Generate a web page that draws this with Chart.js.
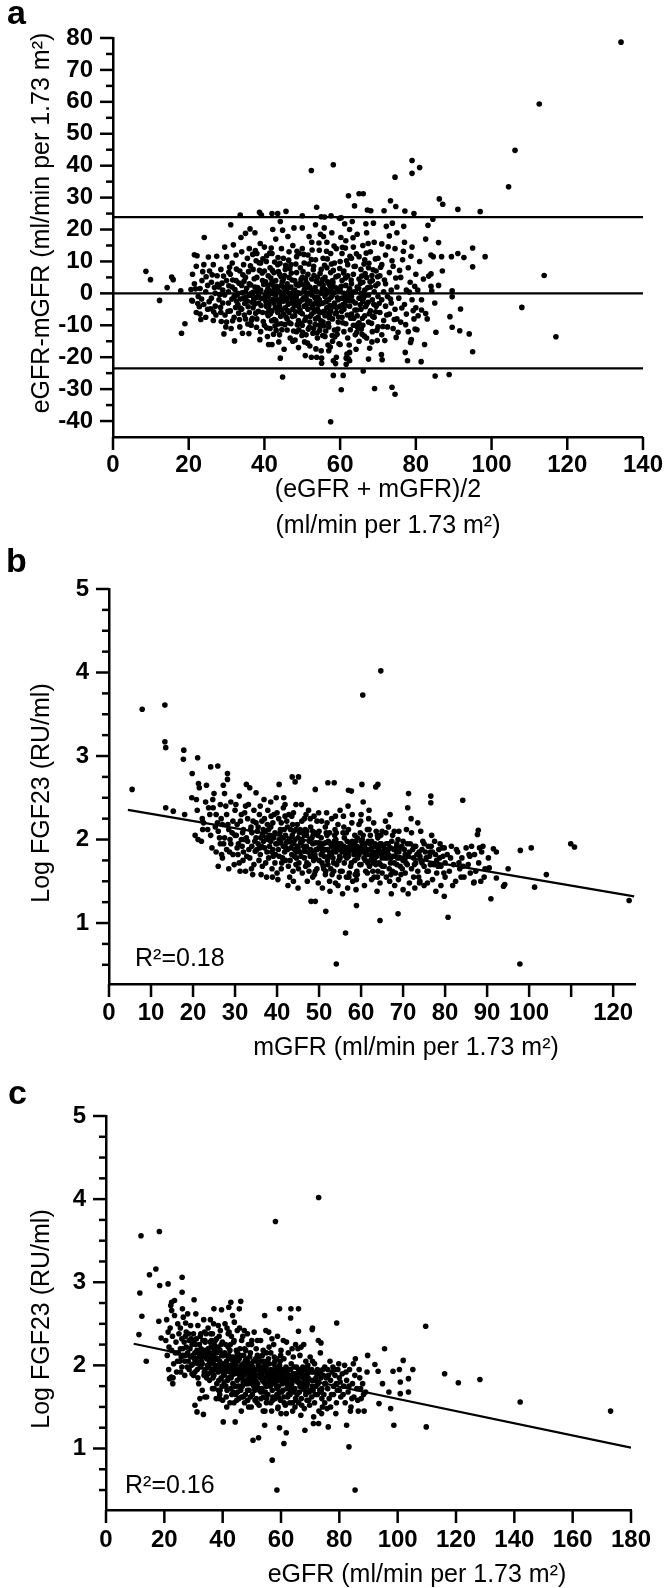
<!DOCTYPE html>
<html>
<head>
<meta charset="utf-8">
<script src="https://cdn.jsdelivr.net/npm/chart.js@4.4.1/dist/chart.umd.min.js"></script>
<style>
  body { margin: 0; background: #fff; }
  #page { position: relative; width: 664px; height: 1588px; }
  .panel { position: absolute; left: 0; }
</style>
</head>
<body>
<div id="page">
  <div class="panel" style="top:0"><canvas id="panelA" width="664" height="548"></canvas></div>
  <div class="panel" style="top:540px"><canvas id="panelB" width="664" height="520"></canvas></div>
  <div class="panel" style="top:1060px"><canvas id="panelC" width="664" height="528"></canvas></div>
</div>
<script>
// パネルa: (eGFR + mGFR)/2 と eGFR-mGFR の差 (Bland-Altman)
const blandAltman = [
  // 外れ値・まばらな点
  [134.2,78.7],[112.6,59.3],[106.2,44.8],[104.5,33.4],[97,25.6],[91.1,26.3],[113.9,5.6],[108,-4.4],[117,-13.6],
  [98.3,11.5],[95,14.2],[95,8.3],[95,-18.3],[94.1,-12.7],[91.8,-4.9],[91.6,-11.7],[89.6,-10.6],[89,-7.3],
  [89.6,0.8],[89.6,-1.1],[88.8,-25.4],[85.1,-25.9],[85.3,-12.2],[89.4,11.5],[91.1,12.5],[92.7,11.2],[86.8,11.5],
  [84.6,11.5],[86,15.9],[87.1,27.9],[86.2,29.6],[84.5,23.2],[83.2,21.3],[84,6.1],[83.4,5.4],[84,2.2],[84.2,0.8],
  [82.6,-6.3],[82.3,-16],[81.5,-5.2],[81.4,-21.4],[77.8,-21.1],[78.6,-15.4],[80.3,-11.4],[79,41.6],[81,39.4],
  [79,37.6],[74.5,36.4],[73.3,29],[74.7,27.2],[77.1,25.8],[79.5,25],[58.2,40.3],[52.4,38.5],[62.2,30.6],[65,31.2],
  [66.1,31.2],[63.8,27.4],[53.8,27],[67.2,26.1],[68.1,25.9],[71.6,25.9],[45.7,25.7],[38.7,25.4],[42,25],[43.5,25],
  [33.6,24.5],[50,24.3],[57.6,24.3],[55.9,23.9],[60.3,23.7],[31.1,21.5],[24.1,17.5],[21.5,12.1],[8.7,6.9],[9.9,4.3],
  [15.5,5.1],[15.9,4.3],[14.3,1.8],[12.3,-2.2],[17.9,0.8],[19,-9.5],[18.1,-12.5],[20.8,-2.2],[29.3,-12.7],[32.1,-14.9],
  [41.1,-16],[44.2,-20.3],[44.8,-26.2],[58.2,-25.7],[60.8,-25.7],[60.3,-30.2],[57.5,-40.2],[69.1,-29.8],[73.7,-29.4],
  [74.5,-31.6],[66.1,-24.3],[67.5,-20.6],[71.1,-20.8],[70.9,-19.2],[61.6,-22.2],[61.6,-20.3],[61.8,-19],[52.4,-20],
  [55.1,-20.3],[58.2,-21.1],[55.1,-21.9],[62.5,-21.1],
  // 20-30
  [21,6],[21.5,3],[22,-6],[22,8.5],[22.5,-1],[23,1.5],[23,-6.5],[23.5,4],[24,-3.5],[24,9],[24.5,0.5],[24.5,-7.5],
  [25,2.5],[25,-5],[21,-2.4],[22.8,-4.2],[23.7,6.8],[20.6,1.2],[25.5,7],[26,-1.5],[26,3.5],[26.5,-8.5],[26.5,9],
  [27,0],[27,-4],[27.5,5.5],[28,-2],[28,2],[28.5,-6],[28.5,7.5],[29,1],[29,-3],[29.5,14.5],[29.5,-0.5],[30,4],
  [30,-9],[30,11.5],[25.8,-4.8],[27.2,-6.8],[28.8,3.2],[29.8,-10.5],[26.8,1.8],[28.2,-0.4],
  // 30-40
  [30.5,0.5],[30.5,-3],[31,6],[31,-5.5],[31.5,9.5],[31.5,2],[32,-1],[32,-7.5],[32.5,4],[32.5,12],[33,-3.5],[33,0],
  [33.5,7],[33.5,-10.5],[34,2.5],[34,-5],[34,13],[34.5,-1.5],[34.5,9],[35,5],[35,-8],[35,0.5],[31.2,-11],[32.8,-0.5],
  [33.8,17.5],[34.2,-12.5],[35,18.8],[30.8,8.2],[32.2,1.2],[33.2,-6.2],[34.8,-3.2],
  [35.5,-2.5],[35.5,11],[36,3],[36,-6],[36,14],[36.5,0],[36.5,-10],[37,7.5],[37,-1],[37,-4.5],[37.5,2],[37.5,19],
  [38,-8],[38,5],[38,12.5],[38.5,-0.5],[38.5,-3],[39,9.5],[39,1],[39,-12],[39.5,-6],[39.5,4],[40,-1.5],[40,7],
  [40,14.5],[40,-10],[35.8,6.8],[36.8,-7.8],[37.8,10.2],[38.8,-14.5],[39.2,24.5],[36.2,20.2],[37.2,-2.2],[38.2,1.8],[39.8,2.8],
  // 40-50
  [40.5,0.5],[40.5,-4],[40.5,10],[41,2.5],[41,-7],[41,5.5],[41,-1],[41.5,-2.5],[41.5,8],[41.5,-11],[42,0],[42,3.5],
  [42,-5.5],[42,12.5],[42,-16],[42.5,1],[42.5,-3],[42.5,6.5],[43,-0.5],[43,-8.5],[43,4],[43,17],[43.5,1.5],[43.5,-2],
  [43.5,-6],[43.5,9],[44,0.5],[44,-4],[44,6],[44,-13],[44.5,-1],[44.5,2.5],[44.5,-9.5],[44.5,14],[45,-2.5],[45,4.5],
  [45,-6.5],[45,0],[45,11],[40.8,-13.5],[41.8,14.2],[42.8,-10.2],[43.8,-15.2],[44.8,19.8],[44.2,22.5],[42.2,20],
  [40.2,-0.8],[41.2,-3.8],[43.2,2.2],[44.6,-5.2],
  [45.5,1],[45.5,-4.5],[45.5,7.5],[46,-1.5],[46,3],[46,-8],[46,-11.5],[46.5,0],[46.5,5],[46.5,-6],[46.5,13],[47,-3],
  [47,2],[47,-9.5],[47,9],[47.5,-1],[47.5,-5],[47.5,15],[47.5,-15],[48,1],[48,-7],[48,4],[48,-2.5],[48.5,-12],
  [48.5,6.5],[48.5,-0.5],[48.5,11.5],[49,-4],[49,2.5],[49,-8.5],[49,-17],[49.5,0],[49.5,8],[49.5,-6],[50,-2],[50,5],
  [50,-10],[50,14],[45.2,-17.5],[46.2,17.8],[46.8,-14],[47.8,20.5],[48.8,-3.2],[49.2,12.5],[50,20.5],[45.8,-2.2],
  [47.2,-0.4],[48.2,-5.8],
  // 50-60
  [50.5,-4],[50.5,1],[50.5,9.5],[51,-1],[51,-7.5],[51,3.5],[51,-13],[51.5,0],[51.5,6],[51.5,-5],[51.5,12],[52,-2.5],
  [52,2],[52,-9],[52,-16.5],[52.5,-0.5],[52.5,4.5],[52.5,-6.5],[52.5,16],[53,-3.5],[53,8.5],[53,-11],[53,1],
  [53.5,-1.5],[53.5,-8],[53.5,10.5],[53.5,21.5],[54,0.5],[54,-5],[54,5],[54,-14],[54.5,-2],[54.5,3],[54.5,-10],
  [54.5,13.5],[55,-6],[55,0],[55,7.5],[55,-18],[50.8,-19.5],[51.8,17.8],[52.8,-12.5],[53.8,-20],[54.8,18.5],[55,24],
  [50.2,6.8],[51.2,-3.4],[53.2,-5.8],[54.2,-7.4],
  [55.5,-3],[55.5,2.5],[55.5,-9],[55.5,11],[56,-1],[56,5],[56,-7],[56,-13.5],[56.5,0],[56.5,-4.5],[56.5,8],[56.5,16],
  [57,-2],[57,3],[57,-10.5],[57,-18],[57.5,-5.5],[57.5,1],[57.5,6.5],[57.5,12.5],[58,-0.5],[58,-8],[58,4],[58,-15],
  [58.5,-3],[58.5,9.5],[58.5,-11.5],[58.5,2],[59,-6],[59,0.5],[59,14],[59,-20],[59.5,-2],[59.5,5.5],[59.5,-9],[60,1],
  [60,-4],[60,10],[60,-16],[55.8,20.5],[56.8,-16.2],[57.8,19],[58.8,-22],[59.8,23.5],[56.2,-11.8],[57.2,-6.6],
  [58.2,7.2],[59.2,-12.8],[55.2,3.8],
  // 60-70
  [60.5,-1.5],[60.5,4],[60.5,-7.5],[60.5,12.5],[61,0],[61,-5],[61,7],[61,-12],[61.5,-2.5],[61.5,2.5],[61.5,-9.5],
  [61.5,16.5],[62,-0.5],[62,5.5],[62,-14],[62,9],[62.5,-4],[62.5,1.5],[62.5,-18.5],[62.5,20],[63,-6.5],[63,3],[63,11],
  [63,-1],[63.5,-10],[63.5,6],[63.5,14.5],[64,-3],[64,0.5],[64,-13],[64,8.5],[64.5,-7],[64.5,2],[64.5,18.5],[65,-1.5],
  [65,4.5],[65,-15],[65,11.5],[60.2,17.5],[61.2,21.8],[62.2,-20.5],[63.2,22.5],[64.2,-17.5],[65,-9.2],[60.8,-3.4],[62.8,-7.8],
  [65.5,0],[65.5,-5],[65.5,7.5],[66,-2.5],[66,3.5],[66,-10],[66,15],[66.5,1],[66.5,-7],[66.5,10.5],[67,-3.5],[67,5],
  [67,-14],[67,19],[67.5,-0.5],[67.5,-9],[67.5,8],[68,2],[68,-5.5],[68,13],[68.5,-2],[68.5,-12],[68.5,4],[69,-7.5],
  [69,0.5],[69,16],[69.5,-4],[69.5,7],[70,-1],[70,-10.5],[70,11],[70,3],[65.8,-12.8],[66.8,21.8],[67.8,-17.2],[68.8,22],
  [69.8,-14.8],[66.2,-1.4],
  // 70-88
  [70.5,5.5],[70.5,-6],[71,-2],[71,9],[71,-13],[71,15.5],[71.5,0.5],[71.5,-8.5],[72,3],[72,-4],[72,12],[72.5,-10.5],
  [72.5,-1],[73,6.5],[73,-6.5],[73,18],[73.5,1],[73.5,-3],[74,-11],[74,8.5],[74.5,-5],[74.5,14],[75,2],[75,-8],[75,19],
  [71.8,-14.8],[73.8,22],[74.8,-13.8],[72.2,21],
  [75.5,-1.5],[76,5],[76,-9],[76.5,10.5],[77,-3.5],[77,16],[77.5,1],[77.5,-6.5],[78,8],[78,-12],[78.5,3.5],[79,-2],
  [79,14.5],[79.5,-8],[80,6],[80,-4.5],[76.8,21],[78.8,-14.5],[77.2,-18.5],[79.8,-11.2],
  [80.5,1],[81,10],[81.5,-2],[82,4.5],[83,-8],[84,12],[85,-3],[86,2.5],[87,7],[80.6,-7],[82.6,17]
];
// パネルa: 中心部の密集した点
const blandAltmanDense = [
  [33.3,3.2],[33.7,-1.8],[34.3,5.8],[34.7,-6.8],[35.3,1.6],[35.7,-4.2],[36.3,8.6],[36.7,-2.8],[37.3,4.6],[37.7,-6.2],
  [38.3,0.8],[38.7,7.2],[39.3,-1.6],[39.7,-8.8],[36.1,-0.6],[37.1,0.4],[38.1,-1.2],[39.1,-3.8],[35.1,-1.2],[34.1,0.2],
  [36.9,12.2],[38.9,15.6],[35.9,-12.6],[37.9,-10.6],
  [40.3,3.6],[40.7,-6.2],[40.9,1.4],[41.3,-0.2],[41.7,4.8],[41.9,-8.6],[42.3,-1.8],[42.7,9.8],[42.9,-4.4],[43.3,0.4],
  [43.7,6.8],[43.9,-3.2],[44.3,-7.2],[44.7,3.6],[44.9,-0.6],[45.3,5.6],[45.7,-7.4],[45.9,0.6],[46.3,-3.4],[46.7,7.8],
  [46.9,-1.2],[47.3,4.2],[47.7,-11.8],[47.9,-3.8],[48.3,9.2],[48.7,-9.8],[48.9,0.2],[49.3,-2.6],[49.7,4.4],[49.9,-13.2],
  [40.6,-10.8],[41.4,12.6],[42.4,-12.8],[43.6,11.2],[44.4,-1.8],[45.4,-9.8],[46.4,10.4],[47.4,-7.2],[48.4,2.8],[49.4,-5.2],
  [41.1,-4.8],[43.1,-11.6],[45.1,1.8],[47.1,6.4],[49.1,-11.4],[42.1,7.2],[44.1,9.4],[46.1,-5.4],[48.1,-14.6],[50,-6.4],
  [50.3,2.6],[50.7,-8.4],[50.9,4.8],[51.3,-2.2],[51.7,9.2],[51.9,-10.6],[52.3,0.8],[52.7,-4.6],[52.9,7.4],[53.3,-1.2],
  [53.7,3.8],[53.9,-12.4],[54.3,-3.6],[54.7,6.2],[54.9,-8.6],[55.3,1.4],[55.7,-5.6],[55.9,8.8],[56.3,-2.6],[56.7,3.6],
  [56.9,-9.4],[57.3,-3.8],[57.7,9.2],[57.9,-13.2],[58.3,0.2],[58.7,-6.4],[58.9,5.2],[59.3,-1.4],[59.7,-15.8],[59.9,7.8],
  [50.4,12.2],[51.4,-15.6],[52.4,10.6],[53.4,-9.8],[54.4,15.8],[55.4,-13.2],[56.4,13.2],[57.4,-16.8],[58.4,14.8],[59.4,-11.2],
  [51.1,1.8],[52.1,-7.2],[53.1,5.6],[54.1,-1.2],[55.1,-3.2],[56.1,1.2],[57.1,-7.6],[58.1,3.4],[59.1,-4.4],[50.1,-12.2],
  [55.6,17.8],[53.6,-17.4],
  [60.3,2.2],[60.7,-9.2],[60.9,6.4],[61.3,-3.8],[61.7,10.2],[61.9,-6.8],[62.3,0.6],[62.7,-11.4],[62.9,4.2],[63.3,-2.4],
  [63.7,8.4],[63.9,-5.2],[64.3,12.4],[64.7,-9.6],[64.9,1.6],[65.3,-3.6],[65.7,5.4],[65.9,-7.8],[66.3,9.2],[66.7,-4.2],
  [66.9,12.6],[67.3,1.8],[67.7,-6.4],[67.9,3.6],[68.3,-9.4],[68.7,7.4],[68.9,-3.4],[69.3,10.8],[69.7,-11.6],[69.9,5.2],
  [61.4,14.2],[62.4,-16.2],[63.4,17.4],[64.4,-12.2],[66.4,-13.4],[67.4,15.6],[68.4,-15.2],[69.4,2.4],
  [70.3,-3.2],[70.7,8.2],[71.3,-10.4],[71.7,4.2],[72.3,-6.8],[72.7,14.6],[73.3,-1.8],[73.7,10.2],[74.3,-8.2],[74.7,4.8],
  [75.3,-12.2],[75.7,7.2],[76.3,-4.6],[76.7,13.2],[77.3,-9.8],[78.3,0.4],[78.7,11.6],[79.3,-5.4],[79.7,2.2],
  [21.8,1.4],[22.4,-3.2],[23.4,-1.8],[24.6,5.2],[25.4,-2.6],[26.2,5.8],[26.6,-5.8],[27.6,2.8],[28.4,-4.4],[29.2,5.4],
  [29.6,-6.8],[30.4,-5.6],[30.6,2.4],[31.4,-1.8],[31.6,4.2],[32.4,-4.4],[32.6,7.6],[33.4,-8.2],[27.4,11.6],[31.8,15.2],
  [25.2,11.4],[23.2,-8.2],[22.2,11.8],[28.6,-8.8],
  [36.4,2.6],[37.4,-3.4],[38.4,-5.6],[39.4,6.4],[40.4,-2.6],[41.4,0.8],[42.4,2.4],[43.4,-4.8],[44.4,5.2],[45.4,-1.2],
  [46.4,1.8],[47.4,-2.2],[48.4,-1.4],[49.4,3.2],[50.4,-1.4],[51.4,2.8],[52.4,-3.4],[53.4,1.8],[54.4,-5.8],[55.4,4.4],
  [56.4,-6.2],[57.4,2.2],[58.4,-4.2],[59.4,1.6],[60.4,-5.6],[61.4,4.8],[62.4,-2.2],[63.4,0.4],[64.4,-5.2],[65.4,3.2],
  [66.4,-0.8],[67.4,-2.8],[68.4,5.6],[69.4,-5.8],
  [36.6,-8.4],[38.6,9.6],[40.6,11.8],[42.6,-8.2],[44.6,-11.4],[46.6,-9.2],[48.6,13.2],[50.6,-15.2],[52.6,13.6],[54.6,-11.6],
  [56.6,10.8],[58.6,-13.6],[60.6,14.4],[62.6,11.6],[64.6,-10.6],[66.6,6.2],[68.6,-7.2],
  [41.6,-6.4],[43.6,-9.6],[45.6,8.8],[47.6,0.6],[49.6,-9.4],[51.6,-11.2],[53.6,-2.8],[55.6,-10.2],[57.6,-1.2],[59.6,-7.4],
  [61.6,-1.2],[63.6,-7.8],[65.6,-11.2],[67.6,9.4],
  [34.6,3.8],[35.6,-9.6],[37.6,13.4],[39.6,10.8],[33.6,-4.6],[32.6,-2.4],[31.6,-8.6],[30.6,6.6]
];
const agreementLimits = [23.9, -23.5];
const meanBias = 0;

// パネルb: mGFR と Log FGF23
const mgfrFgf23 = [
  [64.7,4.02],[60.4,3.73],[7.9,3.56],[13.3,3.61],[13.3,3.17],[13.5,3.10],[17.8,3.07],[17.7,2.96],[21.1,2.98],
  [19.8,2.79],[5.5,2.60],[13.5,2.38],[15.3,2.34],[18,2.30],[24.2,2.87],[25.9,2.88],[28.2,2.79],[19.7,2.50],[21.3,2.67],
  [97.8,0.51],[54.1,0.51],[56.3,0.88],[64.5,1.03],[68.8,1.11],[80.7,1.07],[51.6,1.14],[58.9,1.21],[48.1,1.26],
  [49.1,1.26],[123.8,1.27],[90.9,1.29],[79.8,1.32],[101.3,1.43],[104.1,1.58],[94.2,1.46],[93.9,1.44],[95,1.65],
  [92.2,1.54],[90.5,1.66],[97.9,1.87],[100.5,1.90],[109.9,1.95],[110.8,1.91],[91.5,1.89],[92.2,1.85],[88.2,1.90],
  [85.9,1.80],[87.9,2.11],[87.7,2.06],[84.2,2.47],[76.6,2.52],[76.6,2.44],[71.3,2.55],[71.1,2.38],[64,2.66],[63.5,2.63],
  [60.2,2.66],[60.5,2.45],[57.7,2.58],[57,2.59],[52.1,2.68],[53.6,2.68],[43.6,2.75],[45.1,2.75],[44.3,2.69],[40.5,2.66],
  [49.1,2.60],[32.7,2.66],[86.9,1.49],
  [20.5,2.05],[21,2.35],[21.5,2.62],[22,1.98],[22.5,2.2],[23,2.45],[23.5,2.12],[24,2.3],[24.5,1.9],[25,2.55],[21.2,2.0],
  [22.2,2.25],[23.2,2.65],[24.2,2.05],[20.8,2.48],[24.8,2.38],
  [25.5,1.85],[25.5,2.3],[26,2.1],[26,1.68],[26.5,2.42],[26.5,1.95],[27,2.18],[27,1.78],[27.5,2.55],[27.5,2.02],[28,1.88],
  [28,2.3],[28.5,2.12],[28.5,1.65],[29,2.45],[29,1.95],[29.5,2.22],[29.5,1.82],[30,2.05],[30,2.35],[25.8,2.2],[26.8,1.82],
  [27.8,2.4],[28.8,2.0],[29.8,1.7],[27.2,2.65],[28.2,2.72],
  [30.5,1.9],[30.5,2.18],[31,2.52],[31,1.72],[31.5,2.0],[31.5,2.3],[32,1.85],[32,2.12],[32.5,2.4],[32.5,1.62],[33,1.98],
  [33,2.25],[33.5,1.78],[33.5,2.62],[34,2.08],[34,1.92],[34.5,2.35],[34.5,1.7],[35,2.02],[35,2.2],[30.8,1.95],[31.8,2.08],
  [32.8,1.8],[33.8,2.15],[34.8,1.86],[30.2,2.42],[31.2,1.62],[32.2,2.0],[33.2,2.42],[34.2,1.58],[35,2.56],
  [35.5,1.95],[35.5,2.15],[36,1.82],[36,2.4],[36.5,2.05],[36.5,1.68],[37,2.25],[37,1.9],[37.5,2.02],[37.5,1.55],[38,2.12],
  [38,1.78],[38.5,2.45],[38.5,1.98],[39,1.88],[39,2.2],[39.5,2.08],[39.5,1.72],[40,1.95],[40,2.32],[35.8,2.3],[36.8,1.98],
  [37.8,2.35],[38.8,1.65],[39.8,2.5],[36.2,1.58],[37.2,2.1],[38.2,1.92],[39.2,2.02],[35.2,1.88],[36.4,2.22],[37.6,1.85],
  [38.6,2.28],[39.6,1.82],[40,1.6],
  [40.5,2.0],[40.5,1.8],[41,2.2],[41,1.65],[41.5,1.92],[41.5,2.38],[42,2.05],[42,1.75],[42.5,1.88],[42.5,2.15],[43,1.98],
  [43,1.55],[43.5,2.28],[43.5,1.82],[44,2.1],[44,1.95],[44.5,1.7],[44.5,2.42],[45,1.9],[45,2.02],[40.8,2.12],[41.8,1.85],
  [42.8,2.3],[43.8,1.62],[44.8,2.18],[40.2,1.52],[41.2,2.02],[42.2,1.96],[43.2,2.12],[44.2,1.88],[45,1.42],[42.6,1.45],
  [41.6,2.5],[43.6,2.05],[44.6,1.78],[40.4,2.25],
  [45.5,1.85],[45.5,2.12],[46,1.98],[46,1.6],[46.5,2.25],[46.5,1.78],[47,1.92],[47,2.05],[47.5,1.7],[47.5,2.35],[48,1.88],
  [48,2.15],[48.5,1.55],[48.5,1.95],[49,2.08],[49,1.82],[49.5,1.65],[49.5,2.22],[50,1.9],[50,1.75],[45.8,2.42],[46.8,1.68],
  [47.8,2.0],[48.8,2.28],[49.8,1.48],[45.2,1.72],[46.2,2.08],[47.2,1.5],[48.2,1.8],[49.2,1.96],[46.6,1.9],[47.6,1.62],
  [48.6,2.05],[49.6,1.88],[50,2.1],[45.6,1.96],
  [50.5,1.82],[50.5,2.02],[51,1.68],[51,1.95],[51.5,2.15],[51.5,1.58],[52,1.88],[52,1.75],[52.5,2.08],[52.5,1.5],[53,1.92],
  [53,2.25],[53.5,1.72],[53.5,1.62],[54,2.0],[54,1.85],[54.5,1.45],[54.5,2.18],[55,1.78],[55,1.95],[50.8,1.42],[51.8,2.32],
  [52.8,1.65],[53.8,2.12],[54.8,1.55],[50.2,1.9],[51.2,1.8],[52.2,1.98],[53.2,1.85],[54.2,1.7],[55,2.35],[52.6,1.38],
  [53.6,1.98],[54.6,1.88],[51.6,1.62],[50.6,2.22],
  [55.5,1.85],[55.5,1.62],[56,2.02],[56,1.72],[56.5,1.9],[56.5,1.55],[57,2.12],[57,1.8],[57.5,1.68],[57.5,1.95],[58,1.88],
  [58,1.5],[58.5,2.05],[58.5,1.75],[59,1.92],[59,1.62],[59.5,2.18],[59.5,1.82],[60,1.7],[60,1.98],[55.8,2.28],[56.8,1.42],
  [57.8,2.2],[58.8,1.4],[59.8,2.08],[55.2,1.95],[56.2,1.88],[57.2,1.6],[58.2,1.95],[59.2,1.78],[60,2.3],[56.6,1.78],
  [57.6,1.88],[58.6,1.58],[59.6,1.9],[55.6,1.35],
  [60.5,1.85],[60.5,2.05],[61,1.75],[61,1.95],[61.5,1.6],[61.5,2.12],[62,1.88],[62,1.68],[62.5,1.98],[62.5,1.52],[63,1.82],
  [63,2.2],[63.5,1.7],[63.5,1.92],[64,1.62],[64,2.02],[64.5,1.85],[64.5,1.48],[65,1.78],[65,2.1],[60.8,1.45],[61.8,2.25],
  [62.8,1.62],[63.8,1.38],[64.8,1.95],[60.2,1.92],[61.2,1.82],[62.2,2.05],[63.2,1.75],[64.2,1.88],[65,1.6],[61.6,1.72],
  [62.6,1.9],[63.6,2.1],[64.6,1.7],
  [65.5,1.88],[65.5,1.68],[66,1.95],[66,1.55],[66.5,1.82],[66.5,2.15],[67,1.72],[67,1.9],[67.5,1.62],[67.5,2.05],[68,1.8],
  [68,1.45],[68.5,1.95],[68.5,1.7],[69,1.85],[69,2.1],[69.5,1.58],[69.5,1.9],[70,1.75],[70,1.4],[65.8,2.22],[66.8,1.5],
  [67.8,1.88],[68.8,2.0],[69.8,1.65],[66.2,1.78],[67.2,1.35],[68.2,1.6],[69.2,1.78],[70,1.98],
  [70.5,1.82],[70.5,1.6],[71,1.95],[71,1.7],[71.5,1.48],[71.5,1.85],[72,2.08],[72,1.65],[72.5,1.78],[72.5,1.55],[73,1.92],
  [73,1.72],[73.5,1.62],[73.5,2.2],[74,1.8],[74,1.5],[74.5,1.88],[75,1.68],[75,1.95],[71.2,1.35],[72.8,1.42],[74.2,2.1],
  [70.8,2.12],[73.8,1.85],[75,1.45],
  [75.5,1.78],[76,1.62],[76,1.92],[76.5,1.7],[77,1.85],[77,1.52],[77.5,1.98],[78,1.75],[78,1.6],[78.5,1.88],[79,1.68],
  [79,1.45],[79.5,1.8],[80,1.72],[80,1.55],[76.8,2.05],[78.8,1.95],[77.8,1.38],[75.8,1.48],[79.8,1.9],
  [80.5,1.82],[81,1.62],[81.5,1.92],[82,1.7],[82.5,1.5],[83,1.85],[83.5,1.65],[84,1.78],[84.5,1.55],[85,1.9],[85.5,1.7],
  [86,1.6],[87,1.82],[88,1.72],[88.5,1.5],[89,1.92],[89.5,1.65],[81.8,1.45],[83.8,1.55],[86.8,1.48]
];
// パネルb: 中心部の密集した点
const mgfrFgf23Dense = [
  [30.3,2.05],[30.7,1.82],[31.3,2.22],[31.7,1.92],[32.3,2.32],[32.7,2.02],[33.3,1.88],[33.7,2.12],[34.3,2.22],[34.7,1.98],
  [35.3,2.1],[35.7,1.75],[36.3,1.92],[36.7,2.12],[37.3,1.72],[37.7,2.18],[38.3,2.05],[38.7,1.85],[39.3,2.3],[39.7,1.95],
  [40.3,1.88],[40.7,2.08],[41.3,1.78],[41.7,2.12],[42.3,2.22],[42.7,1.68],[43.3,1.9],[43.7,2.18],[44.3,2.0],[44.7,1.85],
  [45.3,2.08],[45.7,1.8],[46.3,1.92],[46.7,2.12],[47.3,1.85],[47.7,1.98],[48.3,2.02],[48.7,1.75],[49.3,1.88],[49.7,2.05],
  [50.3,1.95],[50.7,1.72],[51.3,1.88],[51.7,2.08],[52.3,1.8],[52.7,1.95],[53.3,1.78],[53.7,2.05],[54.3,1.92],[54.7,1.75],
  [55.3,1.88],[55.7,2.08],[56.3,1.8],[56.7,1.98],[57.3,1.92],[57.7,1.72],[58.3,1.82],[58.7,1.98],[59.3,1.88],[59.7,1.7],
  [60.3,2.0],[60.7,1.78],[61.3,1.88],[61.7,1.98],[62.3,1.75],[62.7,1.85],[63.3,1.95],[63.7,1.8],[64.3,1.72],[64.7,2.05],
  [65.3,1.92],[65.7,1.78],[66.3,1.88],[66.7,1.65],[67.3,1.98],[67.7,1.8],[68.3,1.9],[68.7,1.78],[69.3,1.68],[69.7,1.92],
  [70.3,1.88],[70.7,1.72],[71.3,1.8],[71.7,1.95],[72.3,1.88],[72.7,1.7],[73.3,1.82],[73.7,1.55],[74.3,1.75],[74.7,1.98],
  [75.3,1.85],[75.7,1.62],[76.3,1.8],[76.7,1.92],[77.3,1.7],[77.7,1.82],[78.3,1.68],[78.7,1.78],[79.3,1.9],[79.7,1.6],
  [22.3,2.12],[23.7,2.38],[25.3,2.15],[26.3,2.02],[27.3,1.95],[28.3,2.18],[29.3,2.08],[24.7,2.48],[26.7,2.25],[28.7,1.85],
  [36.9,2.48],[41.9,2.42],[46.9,2.3],[51.9,2.2],[56.9,2.4],[61.9,2.35],[66.9,2.3],[71.9,2.25],[43.9,1.5],[48.9,1.58],
  [53.9,1.48],[58.9,1.52],[63.9,1.55],[68.9,1.52],[73.9,1.48],[38.9,1.55],[33.9,1.65],[31.9,1.75],
  [81.3,1.78],[82.7,1.88],[84.3,1.68],[85.7,1.82],[87.3,1.62],[88.7,1.85],[90.3,1.78],[83.3,1.72],[86.3,1.92],[89.3,1.55],
  [40.9,1.96],[41.5,2.02],[42.1,1.9],[42.9,2.0],[43.5,1.96],[44.1,1.8],[44.9,1.92],[45.9,2.0],[46.5,1.86],[47.1,2.1],
  [47.9,1.8],[48.5,2.1],[49.1,1.78],[49.9,1.96],[50.9,1.86],[51.5,1.96],[52.1,1.7],[52.9,1.82],[53.5,1.9],[54.1,2.08],
  [54.9,1.8],[55.9,1.92],[56.5,2.08],[57.1,1.85],[57.9,1.98],[58.5,1.9],[59.1,2.02],[59.9,1.85],[60.9,1.9],[61.5,1.82],
  [62.1,1.95],[62.9,1.72],[63.5,1.85],[64.1,1.92],[64.9,1.82],[65.9,1.85],[66.5,1.95],[67.1,1.78],[67.9,1.72],[68.5,1.85],
  [37.9,2.0],[38.5,2.15],[39.1,1.8],[36.1,2.02],[35.9,1.9],
  [42.5,1.98],[44.5,2.12],[46.5,2.05],[48.5,1.85],[50.5,1.92],[52.5,1.85],[54.5,1.95],[56.5,1.82],[58.5,1.85],[60.5,1.92],
  [62.5,1.8],[64.5,1.95],[66.5,1.88],[68.5,1.92],[70.5,1.78],[72.5,1.92],[74.5,1.72],[76.5,1.85],
  [41.1,1.72],[43.1,1.75],[45.1,1.65],[47.1,1.72],[49.1,1.62],[51.1,1.65],[53.1,1.58],[55.1,1.62],[57.1,1.55],[59.1,1.58],
  [61.1,1.62],[63.1,1.55],[65.1,1.68],[67.1,1.58],
  [41.9,2.28],[43.9,2.32],[45.9,2.22],[47.9,2.25],[49.9,2.32],[51.9,2.05],[53.9,2.28],[55.9,2.15],[57.9,2.3],[59.9,2.22],
  [61.9,2.12],[63.9,2.05],[65.9,2.08],[67.9,2.1]
];
const mgfrFit = [[4.5, 2.355], [125, 1.32]];
const mgfrBlankTicks = [110];

// パネルc: eGFR と Log FGF23
const egfrFgf23 = [
  [72.9,4.02],[58.1,3.73],[12,3.56],[18.3,3.61],[17.1,3.16],[14.9,3.09],[18.4,2.96],[21.3,2.98],[26.1,3.06],[26.1,2.88],
  [11.6,2.87],[12.3,2.59],[11.3,2.37],[13.8,2.05],[30.2,2.79],[109.6,2.47],[95.5,2.20],[101.9,2.06],[105.2,1.95],
  [103.7,1.84],[100.9,1.80],[100.6,1.95],[98.4,1.93],[92.2,2.01],[93.3,1.93],[94.8,1.78],[97,1.68],[100.9,1.66],
  [103.7,1.68],[116.1,1.90],[120.8,1.79],[128.2,1.83],[142,1.56],[173,1.45],[109.8,1.26],[98.7,1.28],[97.6,1.48],
  [93.6,1.54],[89.7,2.12],[79.1,2.51],[85.4,0.50],[58.6,0.50],[57,0.86],[83.3,1.02],[61,1.06],[61.8,1.19],[59.5,1.25],
  [52.3,1.13],[50.4,1.10],[68.2,1.22],[82.5,1.28],[71.1,1.30],[72.9,1.30],[76.2,1.26],[54.4,1.28],[40.2,1.32],[44.3,1.32],
  [33.4,1.41],[31.2,1.44],[30.5,1.52],[63.4,2.68],[66,2.68],[59.5,2.68],[63.3,2.57],[54.4,2.60],[42.8,2.76],[46.2,2.77],
  [45.7,2.68],[42.1,2.70],[39.6,2.67],[37,2.68],[23.5,2.78],[22.5,2.76],[27.3,2.51],[18.1,2.53],[22.5,2.66],[70.8,2.45],
  [70.7,2.43],[66,2.41],[73.7,2.27],[18.9,2.33],[21.8,1.84],[22.9,1.78],[22.4,1.86],
  [20.5,2.3],[21,2.12],[21.5,1.95],[22,2.45],[22.5,2.18],[23,1.85],[23.5,2.6],[24,2.28],[24.5,2.05],[25,2.38],[20.8,2.55],
  [22.2,2.72],[23.2,2.02],[24.2,1.92],[21.6,2.22],[24.8,2.15],
  [25.5,2.2],[25.5,2.45],[26,1.98],[26,2.32],[26.5,2.12],[26.5,2.58],[27,2.05],[27,1.88],[27.5,2.4],[27.5,2.22],[28,2.15],
  [28,2.62],[28.5,1.95],[28.5,2.3],[29,2.1],[29,2.48],[29.5,1.9],[29.5,2.25],[30,2.38],[30,2.02],[25.8,2.1],[26.8,2.28],
  [27.8,1.98],[28.8,2.2],[29.8,2.12],[26.2,2.68],[27.2,2.35],[28.2,2.05],[29.2,2.32],[30,1.88],
  [30.5,2.15],[30.5,1.92],[31,2.32],[31,2.05],[31.5,2.48],[31.5,1.85],[32,2.1],[32,2.25],[32.5,1.98],[32.5,2.38],[33,2.02],
  [33,1.7],[33.5,2.18],[33.5,2.55],[34,1.95],[34,2.28],[34.5,2.08],[34.5,1.62],[35,2.2],[35,1.9],[30.8,2.62],[31.8,1.78],
  [32.8,2.12],[33.8,2.4],[34.8,2.0],[30.2,2.3],[31.2,2.18],[32.2,1.6],[33.2,2.3],[34.2,2.15],[35,2.45],[31.6,2.02],
  [32.6,2.2],[33.6,1.88],
  [35.5,2.05],[35.5,1.82],[36,2.22],[36,1.95],[36.5,2.38],[36.5,1.72],[37,2.1],[37,1.88],[37.5,2.3],[37.5,2.0],[38,1.78],
  [38,2.15],[38.5,2.48],[38.5,1.92],[39,2.05],[39,1.65],[39.5,2.25],[39.5,1.85],[40,2.12],[40,1.98],[35.8,2.55],[36.8,2.02],
  [37.8,1.6],[38.8,2.35],[39.8,1.75],[35.2,2.0],[36.2,2.3],[37.2,2.18],[38.2,1.98],[39.2,2.42],[40,1.58],[36.6,1.9],
  [37.6,2.08],[38.6,1.7],[39.6,2.0],[35.6,2.15],
  [40.5,2.02],[40.5,1.8],[41,2.25],[41,1.92],[41.5,2.45],[41.5,1.7],[42,2.08],[42,1.85],[42.5,2.18],[42.5,1.55],[43,1.98],
  [43,2.35],[43.5,1.78],[43.5,2.1],[44,1.9],[44,2.52],[44.5,2.0],[44.5,1.65],[45,2.15],[45,1.82],[40.8,2.5],[41.8,2.0],
  [42.8,1.72],[43.8,2.28],[44.8,1.58],[40.2,2.12],[41.2,1.62],[42.2,2.4],[43.2,1.88],[44.2,2.05],[45,2.42],[41.6,2.12],
  [42.6,1.95],[43.6,1.68],[44.6,1.92],[40.6,1.95],[43.4,2.6],[41.4,1.5],
  [45.5,1.95],[45.5,1.75],[46,2.12],[46,1.88],[46.5,2.3],[46.5,1.62],[47,2.02],[47,1.8],[47.5,2.2],[47.5,1.55],[48,1.92],
  [48,2.08],[48.5,1.7],[48.5,2.38],[49,1.85],[49,2.0],[49.5,1.62],[49.5,2.15],[50,1.9],[50,1.78],[45.8,2.45],[46.8,1.98],
  [47.8,1.65],[48.8,2.25],[49.8,1.5],[45.2,2.05],[46.2,1.7],[47.2,2.12],[48.2,1.82],[49.2,1.95],[50,2.3],[46.6,1.85],
  [47.6,1.95],[48.6,1.58],[49.6,1.82],[45.6,1.6],[47.4,2.42],[46.4,1.45],
  [50.5,1.85],[50.5,2.05],[51,1.7],[51,1.95],[51.5,2.2],[51.5,1.6],[52,1.88],[52,1.78],[52.5,2.1],[52.5,1.52],[53,1.92],
  [53,2.3],[53.5,1.72],[53.5,1.98],[54,1.62],[54,2.05],[54.5,1.85],[54.5,1.45],[55,2.15],[55,1.75],[50.8,2.4],[51.8,1.55],
  [52.8,1.98],[53.8,1.82],[54.8,2.42],[50.2,1.65],[51.2,1.82],[52.2,2.0],[53.2,1.6],[54.2,1.92],[55,1.55],[51.6,2.05],
  [52.6,1.7],[53.6,2.12],[54.6,1.68],[50.6,1.92],
  [55.5,1.88],[55.5,1.65],[56,2.02],[56,1.78],[56.5,1.55],[56.5,2.15],[57,1.92],[57,1.7],[57.5,2.25],[57.5,1.82],[58,1.6],
  [58,1.98],[58.5,1.75],[58.5,2.08],[59,1.88],[59,1.5],[59.5,2.0],[59.5,1.68],[60,1.82],[60,2.18],[55.8,2.4],[56.8,1.45],
  [57.8,1.92],[58.8,2.35],[59.8,1.58],[55.2,2.05],[56.2,1.9],[57.2,1.62],[58.2,1.85],[59.2,1.75],[60,1.42],[56.6,1.8],
  [57.6,2.02],[58.6,1.65],[59.6,1.95],
  [60.5,1.78],[60.5,1.95],[61,1.62],[61,2.08],[61.5,1.85],[61.5,1.52],[62,1.92],[62,1.72],[62.5,2.15],[62.5,1.65],[63,1.88],
  [63,1.55],[63.5,2.02],[63.5,1.75],[64,1.82],[64,1.45],[64.5,1.98],[64.5,1.68],[65,1.9],[65,1.6],[60.8,2.3],[61.8,1.42],
  [62.8,1.95],[63.8,2.2],[64.8,1.5],[60.2,1.68],[61.2,1.92],[62.2,1.8],[63.2,1.7],[64.2,2.1],[65,2.25],
  [65.5,1.85],[65.5,1.65],[66,1.95],[66,1.55],[66.5,2.12],[66.5,1.75],[67,1.88],[67,1.6],[67.5,1.98],[67.5,1.72],[68,1.82],
  [68,1.48],[68.5,2.05],[68.5,1.65],[69,1.9],[69,1.78],[69.5,1.58],[69.5,1.95],[70,1.7],[70,2.1],[65.8,2.2],[66.8,1.4],
  [67.8,2.25],[68.8,1.85],[69.8,1.52],[66.2,1.8],[67.2,1.92],[68.2,1.7],[69.2,2.0],
  [70.5,1.82],[70.5,1.62],[71,1.92],[71,1.7],[71.5,2.02],[71.5,1.55],[72,1.85],[72,1.75],[72.5,1.65],[72.5,1.95],[73,1.8],
  [73,1.45],[73.5,1.9],[73.5,2.15],[74,1.72],[74,1.6],[74.5,1.88],[75,1.78],[75,1.98],[71.2,1.38],[72.8,2.3],[74.2,1.5],
  [70.8,2.05],[73.8,1.68],[75,1.55],
  [75.5,1.85],[76,1.72],[76,1.95],[76.5,1.6],[77,1.82],[77,1.5],[77.5,1.92],[78,1.75],[78,1.65],[78.5,1.88],[79,1.78],
  [79,1.55],[79.5,1.95],[80,1.7],[80,1.85],[76.8,2.05],[78.8,1.42],[77.8,1.98],[75.8,1.48],[79.8,2.02],
  [80.5,1.62],[81,1.9],[81.5,1.75],[82,1.55],[82.5,1.82],[83,1.68],[83.5,1.95],[84,1.5],[84.5,1.78],[85,1.62],[85.5,2.08],
  [86,1.72],[86.5,1.45],[87,1.85],[87.5,1.6],[88,1.78],[88.5,1.45],[89,1.68],[89.5,1.92],[81.8,2.0],[83.8,1.45],
  [86.8,1.95],[84.8,2.02]
];
// パネルc: 中心部の密集した点
const egfrFgf23Dense = [
  [30.3,2.08],[30.7,2.25],[31.3,1.95],[31.7,2.15],[32.3,2.35],[32.7,2.05],[33.3,2.12],[33.7,1.92],[34.3,2.38],[34.7,2.1],
  [35.3,1.98],[35.7,2.28],[36.3,2.05],[36.7,1.85],[37.3,1.95],[37.7,2.2],[38.3,2.08],[38.7,1.82],[39.3,1.95],[39.7,2.12],
  [40.3,1.9],[40.7,2.15],[41.3,2.05],[41.7,1.82],[42.3,1.98],[42.7,2.25],[43.3,1.92],[43.7,2.02],[44.3,1.75],[44.7,2.18],
  [45.3,1.9],[45.7,2.08],[46.3,1.95],[46.7,1.75],[47.3,1.88],[47.7,2.05],[48.3,2.0],[48.7,1.78],[49.3,2.1],[49.7,1.92],
  [50.3,1.98],[50.7,1.75],[51.3,2.08],[51.7,1.88],[52.3,1.72],[52.7,1.95],[53.3,2.05],[53.7,1.82],[54.3,1.95],[54.7,1.78],
  [55.3,1.92],[55.7,2.08],[56.3,1.75],[56.7,1.92],[57.3,1.82],[57.7,2.1],[58.3,1.9],[58.7,1.72],[59.3,1.85],[59.7,2.05],
  [60.3,1.88],[60.7,1.7],[61.3,1.82],[61.7,1.98],[62.3,1.62],[62.7,1.85],[63.3,1.95],[63.7,1.78],[64.3,1.9],[64.7,1.72],
  [65.3,1.98],[65.7,1.8],[66.3,1.68],[66.7,1.9],[67.3,1.78],[67.7,1.85],[68.3,1.95],[68.7,1.75],[69.3,1.85],[69.7,1.68],
  [70.3,1.92],[70.7,1.75],[71.3,1.82],[71.7,1.65],[72.3,1.9],[72.7,1.78],[73.3,1.7],[73.7,1.85],[74.3,1.95],[74.7,1.65],
  [22.8,2.35],[23.8,2.15],[24.6,2.5],[25.3,2.05],[26.3,2.2],[27.3,2.12],[28.3,2.38],[29.3,2.0],[21.3,2.4],[25.6,1.92],
  [36.9,2.5],[41.9,2.38],[46.9,2.35],[51.9,2.3],[56.9,2.32],[61.9,2.28],[66.9,2.22],[43.9,1.55],[48.9,1.5],[53.9,1.45],
  [58.9,1.48],[63.9,1.55],[68.9,1.58],[38.9,1.6],[33.9,1.62],[73.9,1.42],
  [75.3,1.78],[76.3,1.88],[77.3,1.65],[78.3,1.95],[79.3,1.7],[80.3,1.8],[81.3,1.65],[82.3,1.92],[83.3,1.75],[84.3,1.6],
  [85.3,1.88],[86.3,1.58],[87.3,1.72],[88.3,1.65],
  [40.9,2.0],[41.5,1.95],[42.1,2.12],[42.9,1.85],[43.5,2.05],[44.1,1.95],[44.9,2.08],[45.9,1.85],[46.5,2.0],[47.1,1.95],
  [47.9,1.78],[48.5,1.95],[49.1,1.88],[49.9,2.02],[50.9,1.9],[51.5,1.8],[52.1,1.95],[52.9,1.85],[53.5,1.9],[54.1,1.8],
  [54.9,1.98],[55.9,1.82],[56.5,1.95],[57.1,1.88],[57.9,1.78],[58.5,1.95],[59.1,1.82],[59.9,1.92],[60.9,1.85],[61.5,1.92],
  [62.1,1.78],[35.9,2.08],[36.5,1.95],[37.1,2.25],[38.5,2.0],[39.1,2.18],
  [32.5,2.18],[34.5,1.85],[36.5,2.12],[38.5,2.22],[40.5,1.88],[42.5,1.92],[44.5,2.1],[46.5,1.92],[48.5,2.05],[50.5,1.95],
  [52.5,1.88],[54.5,2.02],[56.5,1.85],[58.5,1.92],[60.5,1.85],[62.5,1.95],[64.5,1.82],[66.5,1.95],[68.5,1.88],[70.5,1.95],
  [37.1,1.72],[39.1,1.7],[41.1,1.75],[43.1,1.65],[45.1,1.68],[47.1,1.62],[49.1,1.7],[51.1,1.58],[53.1,1.68],[55.1,1.6],
  [57.1,1.58],[59.1,1.62],[61.1,1.55],[63.1,1.65],[65.1,1.58],[67.1,1.52],
  [33.9,2.3],[35.9,2.38],[37.9,2.32],[39.9,2.28],[41.9,2.22],[43.9,2.3],[45.9,2.2],[47.9,2.18],[49.9,2.25],[51.9,2.12],
  [53.9,2.18],[55.9,2.22],[57.9,2.05],[59.9,2.12]
];
const egfrFit = [[9.5, 2.26], [180, 1.01]];

const rSquared = ['R\u00b2=0.18', 'R\u00b2=0.16'];

const FONT = "'Liberation Sans', Arial, Helvetica, sans-serif";

// 目盛り線（大・小）を自前で描く
const axisTicks = {
  id: 'axisTicks',
  afterDraw(chart, args, opts) {
    const ctx = chart.ctx;
    const area = chart.chartArea;
    const isMajor = (v, every) => Math.abs(v / every - Math.round(v / every)) < 1e-6;
    ctx.save();
    ctx.strokeStyle = '#000';
    ctx.lineWidth = 2.5;
    const xs = chart.scales.x;
    xs.ticks.forEach((t) => {
      const px = xs.getPixelForValue(t.value);
      const len = isMajor(t.value, opts.xMajor) ? 13 : 7;
      ctx.beginPath();
      ctx.moveTo(px, area.bottom);
      ctx.lineTo(px, area.bottom + len);
      ctx.stroke();
    });
    const ys = chart.scales.y;
    ys.ticks.forEach((t) => {
      if (t.value === ys.min) return;
      const py = ys.getPixelForValue(t.value);
      const len = isMajor(t.value, opts.yMajor) ? 13 : 7;
      ctx.beginPath();
      ctx.moveTo(area.left, py);
      ctx.lineTo(area.left - len, py);
      ctx.stroke();
    });
    ctx.restore();
  }
};

// 見出し・軸タイトル・R²
function textLayer(items) {
  return {
    id: 'textLayer',
    afterDraw(chart) {
      const ctx = chart.ctx;
      ctx.save();
      ctx.fillStyle = '#000';
      items.forEach((it) => {
        ctx.save();
        ctx.translate(it.x, it.y);
        if (it.rotate) ctx.rotate(it.rotate);
        ctx.font = it.font;
        ctx.textAlign = it.align || 'center';
        ctx.textBaseline = it.baseline || 'middle';
        ctx.fillText(it.text, 0, 0);
        ctx.restore();
      });
      ctx.restore();
    }
  };
}

function toXY(pairs) {
  return pairs.map((p) => ({ x: p[0], y: p[1] }));
}

function lineDataset(pairs) {
  return {
    data: toXY(pairs),
    showLine: true,
    borderColor: '#000',
    borderWidth: 2.2,
    pointRadius: 0,
    fill: false,
    order: 0
  };
}

function scaleOptions(s) {
  return {
    type: 'linear',
    min: s.min,
    max: s.max,
    afterFit: (scale) => {
      if (scale.isHorizontal()) scale.height = s.size;
      else scale.width = s.size;
    },
    border: { display: true, color: '#000', width: 2.5 },
    grid: { drawOnChartArea: false, drawTicks: true, tickLength: 13, tickColor: 'rgba(0,0,0,0)' },
    ticks: {
      stepSize: s.step,
      includeBounds: false,
      autoSkip: false,
      maxRotation: 0,
      padding: s.padding,
      color: '#000',
      font: { family: FONT, size: 24, weight: 'bold' },
      callback: s.label
    }
  };
}

function makePanel(id, cfg) {
  return new Chart(document.getElementById(id), {
    type: 'scatter',
    data: {
      datasets: [
        {
          data: toXY(cfg.points),
          pointRadius: 2.8,
          pointBackgroundColor: '#000',
          pointBorderWidth: 0,
          order: 1
        },
        ...cfg.lines.map(lineDataset)
      ]
    },
    options: {
      responsive: false,
      animation: false,
      layout: { padding: cfg.padding },
      plugins: {
        legend: { display: false },
        tooltip: { enabled: false },
        axisTicks: cfg.majors
      },
      scales: { x: scaleOptions(cfg.x), y: scaleOptions(cfg.y) }
    },
    plugins: [axisTicks, textLayer(cfg.texts)]
  });
}

const TITLE = '25px ' + FONT;
const LETTER = 'bold 34px ' + FONT;
const UP = -Math.PI / 2;

// パネルa
makePanel('panelA', {
  points: blandAltman.concat(blandAltmanDense),
  lines: [
    [[0, agreementLimits[0]], [140, agreementLimits[0]]],
    [[0, meanBias], [140, meanBias]],
    [[0, agreementLimits[1]], [140, agreementLimits[1]]]
  ],
  padding: { top: 38, right: 20, left: 0, bottom: 0 },
  majors: { xMajor: 20, yMajor: 10 },
  x: { min: 0, max: 140, step: 20, size: 111, padding: 1, label: (v) => String(v) },
  y: { min: -45, max: 80, step: 5, size: 113, padding: 7, label: (v) => (v % 10 === 0 ? String(v) : '') },
  texts: [
    { text: 'a', x: 7, y: 24, font: LETTER, align: 'left', baseline: 'alphabetic' },
    { text: 'eGFR-mGFR (ml/min per 1.73 m\u00b2)', x: 42, y: 223, rotate: UP, font: TITLE },
    { text: '(eGFR + mGFR)/2', x: 378, y: 490, font: TITLE },
    { text: '(ml/min per 1.73 m\u00b2)', x: 388, y: 526, font: TITLE }
  ]
});

// パネルb
makePanel('panelB', {
  points: mgfrFgf23.concat(mgfrFgf23Dense),
  lines: [mgfrFit],
  padding: { top: 49, right: 29, left: 0, bottom: 0 },
  majors: { xMajor: 10, yMajor: 1 },
  x: { min: 0, max: 125.2, step: 10, size: 76, padding: 2, label: (v) => (mgfrBlankTicks.includes(v) ? '' : String(v)) },
  y: { min: 0.27, max: 5, step: 0.25, size: 109, padding: 7, label: (v) => (Number.isInteger(v) ? String(v) : '') },
  texts: [
    { text: 'b', x: 6, y: 32, font: LETTER, align: 'left', baseline: 'alphabetic' },
    { text: 'Log FGF23 (RU/ml)', x: 42, y: 253, rotate: UP, font: TITLE },
    { text: 'mGFR (ml/min per 1.73 m\u00b2)', x: 406, y: 508, font: TITLE },
    { text: rSquared[0], x: 135, y: 419, font: TITLE, align: 'left' }
  ]
});

// パネルc
makePanel('panelC', {
  points: egfrFgf23.concat(egfrFgf23Dense),
  lines: [egfrFit],
  padding: { top: 56, right: 33, left: 0, bottom: 0 },
  majors: { xMajor: 20, yMajor: 1 },
  x: { min: 0, max: 180, step: 20, size: 78, padding: 3, label: (v) => String(v) },
  y: { min: 0.26, max: 5, step: 0.25, size: 106, padding: 7, label: (v) => (Number.isInteger(v) ? String(v) : '') },
  texts: [
    { text: 'c', x: 8, y: 44, font: LETTER, align: 'left', baseline: 'alphabetic' },
    { text: 'Log FGF23 (RU/ml)', x: 42, y: 259, rotate: UP, font: TITLE },
    { text: 'eGFR (ml/min per 1.73 m\u00b2)', x: 417, y: 515, font: TITLE },
    { text: rSquared[1], x: 125, y: 426, font: TITLE, align: 'left' }
  ]
});
</script>
</body>
</html>
